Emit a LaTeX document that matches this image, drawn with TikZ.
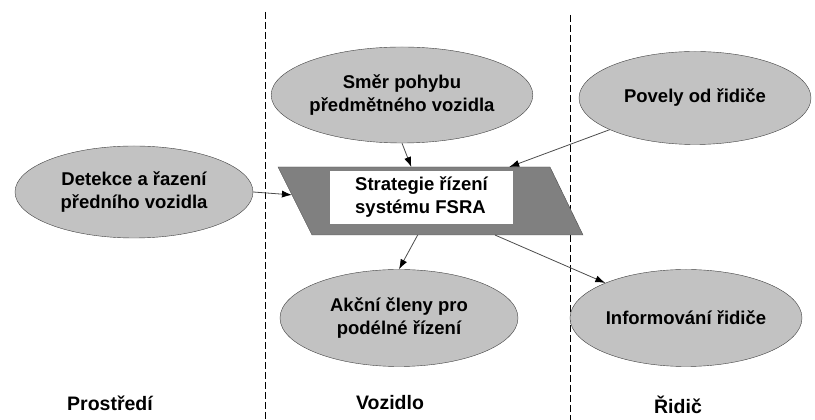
\documentclass[tikz,border=0pt]{standalone}
\usepackage{fontspec}
\setmainfont{Liberation Sans}
\usepackage{tikz}
\usetikzlibrary{arrows.meta,calc,positioning,shapes.geometric}
\tikzset{%
	blok/.style   = {draw=black!75, ellipse, fill=black!24, inner sep=0pt, align=center, font=\fontsize{18.5}{23}\selectfont\bfseries},
	rovnob/.style = {draw=black!70, fill=black!50},
	okno/.style   = {fill=white, inner sep=0pt, minimum width=183pt, minimum height=53pt, align=left, font=\fontsize{18.5}{23}\selectfont\bfseries},
	popis/.style  = {font=\fontsize{19.5}{23}\selectfont\bfseries},
	hranice/.style= {black, line width=0.9pt, dash pattern=on 7pt off 3pt},
	sipka/.style  = {black!70, line width=0.8pt, -{Latex[black,length=10pt,width=7pt]}},
}
\begin{document}
\begin{tikzpicture}[x=1pt,y=1pt]
	\useasboundingbox (0,0) rectangle (815,420);
	\draw[hranice] (265,408) -- (265,0);  % Prostredi | Vozidlo
	\draw[hranice] (570,405) -- (570,0);  % Vozidlo | Ridic
	% rovnobeznik FSRA
	\coordinate (hl) at (278,253);
	\coordinate (hp) at (550,253);
	\coordinate (dp) at (583,185);
	\coordinate (dl) at (312,185);
	\draw[rovnob] (hl) -- (hp) -- (dp) -- (dl) -- cycle;
	\node[okno] (strat) at (421.5,222.5) {Strategie řízení\\systému FSRA};
	\node[blok, minimum width=238pt, minimum height=92pt] (detekce) at (134,228) {Detekce a řazení\\předního vozidla};
	\node[blok, minimum width=240pt, minimum height=96pt] (smer) at (402,325) {Směr pohybu\\předmětného vozidla};
	\node[blok, minimum width=232pt, minimum height=93pt] (povely) at (695,322) {Povely od řidiče};
	\node[blok, minimum width=238pt, minimum height=97pt] (akcni) at (399,102) {Akční členy pro\\podélné řízení};
	\node[blok, minimum width=232pt, minimum height=97pt] (info) at (686,102) {Informování řidiče};
	\node[popis] (prostredi) at (110,17) {Prostředí};
	\node[popis] (vozidlo) at (390,17) {Vozidlo};
	\node[popis] (ridic) at (678,15) {Řidič};
	\draw[sipka] (detekce.east) -- ($(hl)!0.41!(dl)$);
	\draw[sipka] (smer.south) -- ($(hl)!0.49!(hp)$);
	\draw[sipka] (povely) -- ($(hl)!0.85!(hp)$);
	\draw[sipka] ($(dl)!0.39!(dp)$) -- (akcni.north);
	\draw[sipka] ($(dl)!0.675!(dp)$) -- (info);
\end{tikzpicture}
\end{document}
